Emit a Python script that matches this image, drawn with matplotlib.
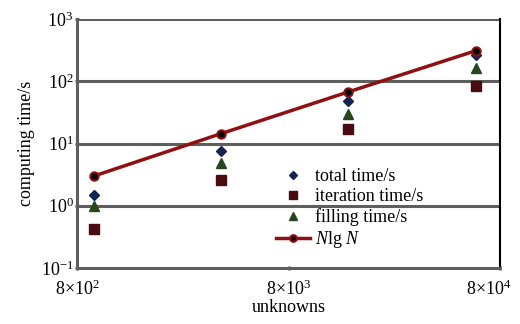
import matplotlib
matplotlib.use("Agg")
import matplotlib.pyplot as plt
from matplotlib.transforms import ScaledTranslation

plt.rcParams["font.family"] = ["Liberation Serif", "DejaVu Serif"]
plt.rcParams["mathtext.fontset"] = "custom"
plt.rcParams["mathtext.rm"] = "Liberation Serif"
plt.rcParams["mathtext.it"] = "Liberation Serif:italic"

# data
unknowns = [960, 3840, 15360, 61440]
total_time = [1.49, 7.6, 48.7, 264]
iteration_time = [0.42, 2.6, 16.9, 84]
filling_time = [1.0, 4.8, 29.4, 161]
nlgn = [3.0, 14.4, 67.5, 309]

x_ticks = [8e2, 8e3, 8e4]
x_ticklabels = [r"8$\times$10$^{2}$", r"8$\times$10$^{3}$", r"8$\times$10$^{4}$"]
y_ticks = [1e-1, 1e0, 1e1, 1e2, 1e3]
y_ticklabels = ["10$^{-1}$", "10$^{0}$", "10$^{1}$", "10$^{2}$", "10$^{3}$"]

fig = plt.figure(figsize=(5.2, 3.24), dpi=100)
ax = fig.add_axes([77 / 520, 1 - 268 / 324, 423 / 520, 249 / 324])

ax.set_xscale("log")
ax.set_yscale("log")
ax.set_xlim(8e2, 8e4)
ax.set_ylim(1e-1, 1e3)

for y in y_ticks[1:]:
    ax.axhline(y, color="#5e5e5e", lw=2.2, zorder=1)

ax.plot(unknowns, total_time, ls="none", marker="D", ms=5, color="#14244e",
        label="total time/s", zorder=3)
ax.plot(unknowns, iteration_time, ls="none", marker="s", ms=7, color="#4a0c10",
        label="iteration time/s", zorder=3)
ax.plot(unknowns, filling_time, ls="none", marker="^", ms=7, color="#27461c",
        label="filling time/s", zorder=3)
ax.plot(unknowns, nlgn, color="#8e1010", lw=2.5, marker="o", ms=6,
        mfc="black", mec="#8e1010", mew=1.5, label="$N$lg $N$", zorder=4)

ax.set_xticks(x_ticks)
ax.set_xticklabels(x_ticklabels)
ax.set_yticks(y_ticks)
ax.set_yticklabels(y_ticklabels)
ax.minorticks_off()
ax.tick_params(axis="both", labelsize=13, length=3, width=2, color="#5e5e5e",
               direction="inout")
ax.tick_params(axis="x", pad=7)
ax.tick_params(axis="y", pad=1)

# last x label sits against the right edge, as in the original
last = ax.get_xticklabels()[-1]
last.set_transform(last.get_transform() + ScaledTranslation(-11 / 100, 0, fig.dpi_scale_trans))

for side in ["left", "bottom"]:
    ax.spines[side].set_color("#5e5e5e")
    ax.spines[side].set_linewidth(2.2)
ax.spines["top"].set_visible(False)
ax.spines["right"].set_color("black")
ax.spines["right"].set_linewidth(1.5)

ax.set_xlabel("unknowns", fontsize=13, labelpad=0)
ax.set_ylabel("computing time/s", fontsize=13, labelpad=4)

ax.legend(loc="lower left", bbox_to_anchor=(0.44, 0.02), frameon=False,
          fontsize=13, handlelength=1.9, handletextpad=0.3, labelspacing=0.17,
          borderpad=0.2, markerscale=0.8)

fig.savefig("out.png", dpi=100)
